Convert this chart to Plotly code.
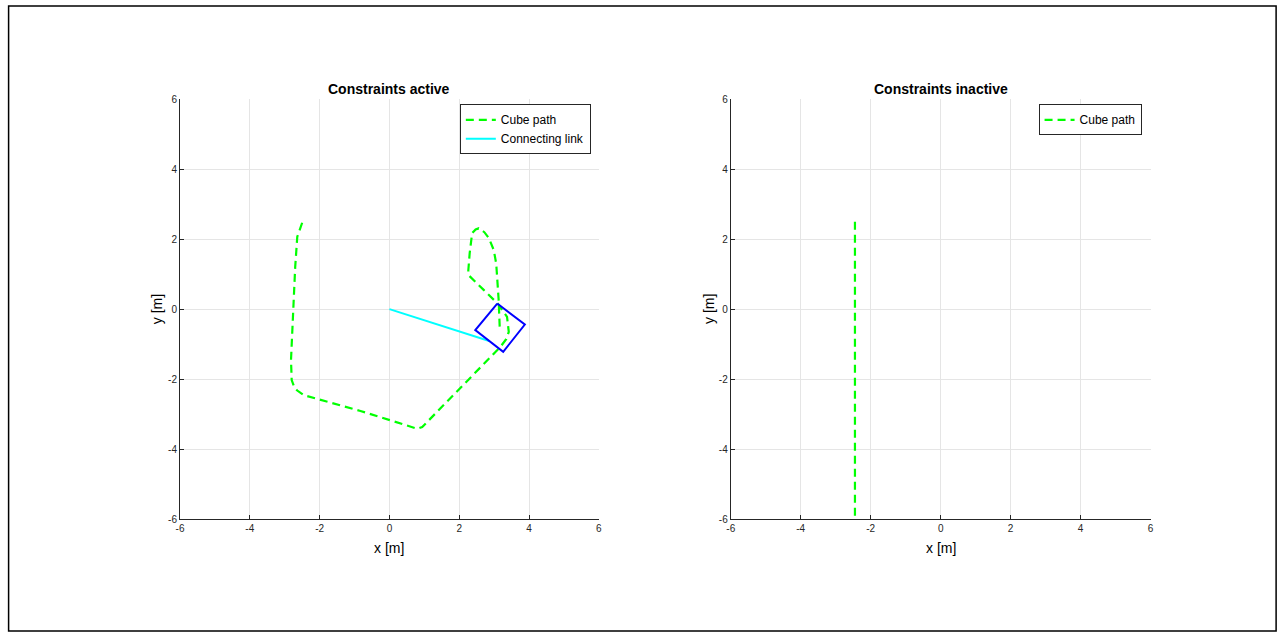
import plotly.graph_objects as go

# Cube path (constraints active)
path_x = [-2.50, -2.58, -2.64, -2.70, -2.74, -2.79, -2.82, -2.80, -2.73, -2.65, -2.45,
          -0.83, 0.70, 0.80, 0.94, 2.03, 2.80, 3.18, 3.35, 3.42, 3.37,
          3.10, 2.70, 2.27, 2.26, 2.30, 2.37, 2.47, 2.56, 2.72, 2.85, 2.99, 3.06, 3.10, 3.13, 3.16]
path_y = [2.47, 2.25, 2.07, 1.20, 0.26, -0.60, -1.46, -2.03, -2.22, -2.32, -2.46,
          -2.91, -3.40, -3.42, -3.37, -2.26, -1.46, -1.08, -0.85, -0.65, -0.22,
          0.16, 0.55, 0.97, 1.10, 1.60, 2.17, 2.28, 2.31, 2.20, 2.03, 1.69, 1.30, 0.83, 0.26, -0.51]

# Cube outline
cube_x = [3.09, 3.88, 3.26, 2.46, 3.09]
cube_y = [0.16, -0.44, -1.22, -0.60, 0.16]

# Connecting link
link_x = [0.0, 2.86]
link_y = [0.0, -0.91]

# Cube path (constraints inactive)
free_x = [-2.45, -2.45]
free_y = [2.50, -6.00]

ticks = [-6, -4, -2, 0, 2, 4, 6]
ticktext = ["-6", "-4", "-2", "0", "2", "4", "6"]

W, H = 1280, 638
FONT = "Liberation Sans, Arial, Helvetica, sans-serif"
AXC = "#262626"
DASH = "8px,5px"
LW = 2.2

fig = go.Figure()
fig.add_trace(go.Scatter(x=path_x, y=path_y, mode="lines", name="Cube path",
                         line=dict(color="#00ff00", width=LW, dash=DASH),
                         xaxis="x", yaxis="y", legend="legend"))
fig.add_trace(go.Scatter(x=link_x, y=link_y, mode="lines", name="Connecting link",
                         line=dict(color="#00ffff", width=2),
                         xaxis="x", yaxis="y", legend="legend"))
fig.add_trace(go.Scatter(x=cube_x, y=cube_y, mode="lines", name="Cube",
                         line=dict(color="#0000ff", width=2), showlegend=False,
                         xaxis="x", yaxis="y"))
fig.add_trace(go.Scatter(x=free_x, y=free_y, mode="lines", name="Cube path",
                         line=dict(color="#00ff00", width=LW, dash=DASH),
                         xaxis="x2", yaxis="y2", legend="legend2"))

# screen-pixel -> paper mapping (compensates for the capture's scale/offset)
def px_x(p):
    return min(1.0, max(0.0, ((p - 2.9) / 0.995) / W))

def px_y(p):
    return min(1.0, max(0.0, 1 - ((p - 5.9) / 0.981) / H))

ydom = [px_y(519), px_y(100)]

def axis_common():
    return dict(range=[-6, 6], tickvals=ticks, ticktext=ticktext,
                showgrid=True, gridcolor="#e5e5e5", gridwidth=1,
                zeroline=False, showline=True, linecolor=AXC, linewidth=1,
                mirror=False, ticks="inside", ticklen=4, tickcolor=AXC,
                tickfont=dict(family=FONT, size=10, color=AXC))

fig.update_layout(
    autosize=True,
    margin=dict(l=0, r=0, t=0, b=0),
    paper_bgcolor="white", plot_bgcolor="white",
    xaxis=dict(domain=[px_x(179), px_x(598)], anchor="y", **axis_common()),
    yaxis=dict(domain=ydom, anchor="x", **axis_common()),
    xaxis2=dict(domain=[px_x(730), px_x(1150)], anchor="y2", **axis_common()),
    yaxis2=dict(domain=ydom, anchor="x2", **axis_common()),
    legend=dict(x=px_x(590), y=px_y(105), xanchor="right", yanchor="top",
                bgcolor="white", bordercolor=AXC, borderwidth=1,
                font=dict(family=FONT, size=12, color="#000"),
                itemwidth=30, tracegroupgap=0),
    legend2=dict(x=px_x(1141), y=px_y(105), xanchor="right", yanchor="top",
                 bgcolor="white", bordercolor=AXC, borderwidth=1,
                 font=dict(family=FONT, size=12, color="#000"),
                 itemwidth=30),
    showlegend=True,
)

annos = [
    dict(text="<b>Constraints active</b>", x=px_x(388.5), y=px_y(89.5), size=14),
    dict(text="<b>Constraints inactive</b>", x=px_x(940), y=px_y(89.5), size=14),
    dict(text="x [m]", x=px_x(388.5), y=px_y(548), size=14),
    dict(text="x [m]", x=px_x(940), y=px_y(548), size=14),
]
for a in annos:
    fig.add_annotation(text=a["text"], x=a["x"], y=a["y"], xref="paper", yref="paper",
                       xanchor="center", yanchor="middle", showarrow=False,
                       font=dict(family=FONT, size=a["size"], color="#000"))
for xx in (156, 708):
    fig.add_annotation(text="y [m]", x=px_x(xx), y=px_y(309.5), xref="paper", yref="paper",
                       xanchor="center", yanchor="middle", showarrow=False, textangle=-90,
                       font=dict(family=FONT, size=14, color="#000"))

# Figure frame
fig.add_shape(type="rect", xref="paper", yref="paper",
              x0=px_x(7.5), x1=0.9993, y0=0.0015, y1=0.9985,
              line=dict(color="#000", width=1.5), fillcolor="rgba(0,0,0,0)", layer="below")

fig.write_html("out.html",
               default_width="100vw", default_height="100vh",
               config={"displayModeBar": False, "responsive": True},
               post_script="document.body.style.margin='0px';document.body.style.overflow='hidden';")
